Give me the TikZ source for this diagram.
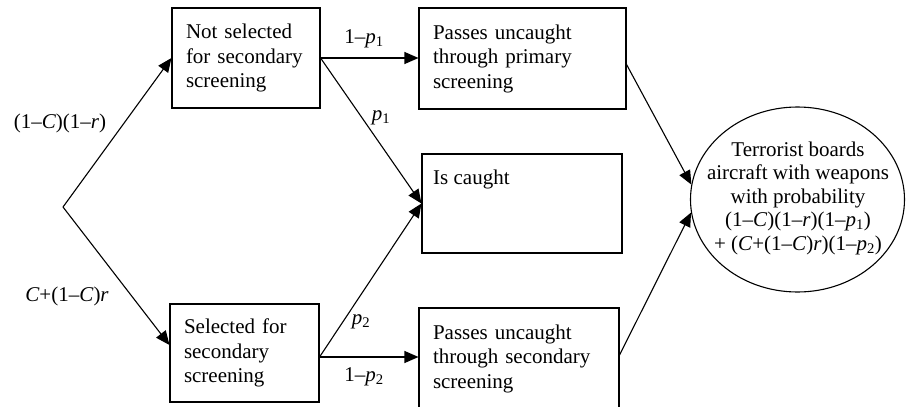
\documentclass[tikz,border=0pt]{standalone}
\usepackage{fontspec}
\setmainfont{Liberation Serif}
\usetikzlibrary{arrows.meta,shapes.geometric}
\newcommand\vv[1]{\textit{#1}}
\newcommand\sbs[1]{\textsubscript{#1}}
\tikzset{
  box/.style 2 args={draw, line width=1.1pt, rectangle, inner sep=0pt, inner xsep=14pt,
    minimum width=#1, minimum height=#2, text width=#1-28pt, align=left,
    font=\fontsize{21}{24.5}\selectfont},
  lab/.style={font=\fontsize{21}{24}\selectfont, inner sep=0pt},
  arr/.style={line width=1.1pt, -{Triangle[length=14pt,width=12pt]}},
}
\begin{document}
\begin{tikzpicture}[x=1pt,y=-1pt]
\useasboundingbox (0,0) rectangle (906,407);
\clip (0,0) rectangle (906,407);
\fill[white] (0,0) rectangle (906,407);
\coordinate (start) at (63,207);
\node[box={148pt}{100pt}] (b1) at (246,58) {Not selected\\for secondary\\screening};
\node[box={149pt}{98pt}] (b2) at (244.5,353) {Selected for\\secondary\\screening};
\node[box={207pt}{101pt}] (b3) at (522.5,58.5) {Passes uncaught\\through primary\\screening};
\node[box={200pt}{99pt}] (b4) at (522,203.5) {};
\node[lab, anchor=base west] (b4t) at (433,184) {Is caught};
\node[box={200pt}{101pt}] (b5) at (519,358.5) {Passes uncaught\\through secondary\\screening};
\node[draw, ellipse, line width=1.1pt, inner sep=0pt, minimum width=214pt, minimum height=185pt] (e) at (797.5,199.5) {};
\node[lab, align=center, font=\fontsize{21}{23.5}\selectfont] (et) at (798,198)
  {Terrorist boards\\aircraft with weapons\\with probability\\(1–\vv{C})(1–\vv{r})(1–\vv{p}\sbs{1})\\+ (\vv{C}+(1–\vv{C})\vv{r})(1–\vv{p}\sbs{2})};
% labels
\node[lab] (l1) at (60,123) {(1–\vv{C})(1–\vv{r})};
\node[lab] (l2) at (67,296) {\vv{C}+(1–\vv{C})\vv{r}};
\node[lab] (l3) at (364,39) {1–\vv{p}\sbs{1}};
\node[lab] (l4) at (381,118) {\vv{p}\sbs{1}};
\node[lab] (l5) at (361,322) {\vv{p}\sbs{2}};
\node[lab] (l6) at (364,377) {1–\vv{p}\sbs{2}};
% connectors
\draw[arr] (start) -- (b1.west);
\draw[arr] (start) -- ([yshift=8pt]b2.west);
\draw[arr] (b1.east) -- (b1.east -| b3.west);
\draw[arr] (b1.east) -- (b4.west);
\draw[arr] ([yshift=-4pt]b2.east) -- (b4.west);
\draw[arr] ([yshift=-4pt]b2.east) -- ([yshift=-4pt]b2.east -| b5.west);
\draw[arr] ([yshift=-6pt]b3.east) -- (e.172);
\draw[arr] ([yshift=3.5pt]b5.east) -- (e.187);
\end{tikzpicture}
\end{document}
